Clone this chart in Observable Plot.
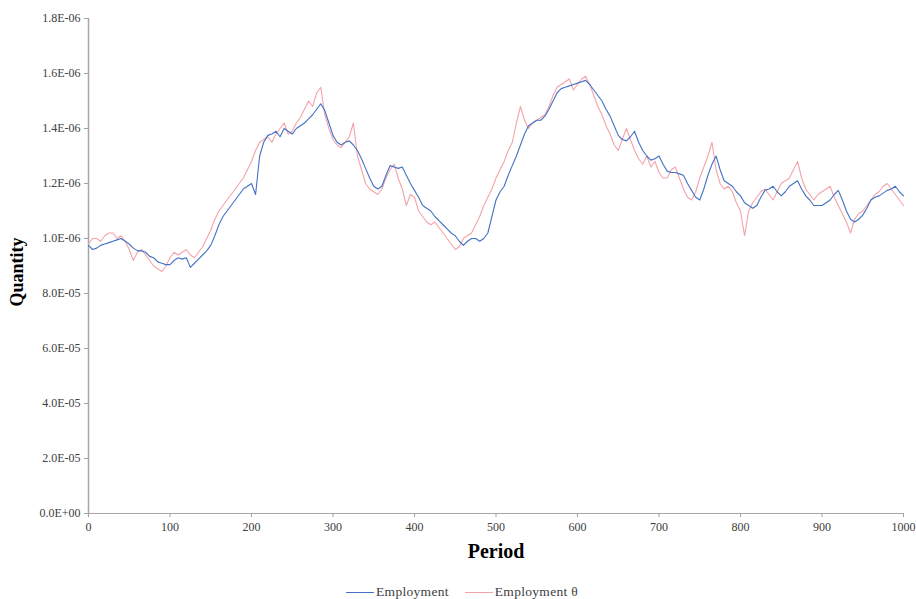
<!DOCTYPE html>
<html>
<head>
<meta charset="utf-8">
<script src="https://cdn.jsdelivr.net/npm/d3@7"></script>
<script src="https://cdn.jsdelivr.net/npm/@observablehq/plot@0.6"></script>
<style>
  html, body { margin: 0; padding: 0; background: #fff; }
  #chart { width: 916px; }
  .legend { display: flex; justify-content: center; align-items: center; height: 16px; padding-top: 6px;
    font-family: "Liberation Serif", "DejaVu Serif", serif; font-size: 13.5px; color: #404040; padding-left: 8px; letter-spacing: 0.3px; }
  .legend .item { display: flex; align-items: center; margin: 0 8px; }
  .legend .sw { width: 28px; height: 0; border-top: 1.2px solid; margin-right: 2px; }
</style>
</head>
<body>
<div id="chart"></div>
<script>
// Period step of 5 (0..1000)
const periodStep = 5;
// Employment (values in millions)
const employment = [
0.975,0.96,0.965,0.975,0.98,0.985,0.99,0.995,1.0,0.99,
0.98,0.965,0.956,0.955,0.95,0.935,0.93,0.915,0.91,0.905,
0.905,0.92,0.93,0.925,0.93,0.895,0.91,0.925,0.94,0.955,
0.975,1.01,1.05,1.08,1.10,1.12,1.14,1.16,1.18,1.19,
1.20,1.16,1.30,1.35,1.375,1.38,1.39,1.37,1.40,1.39,
1.38,1.40,1.41,1.42,1.435,1.45,1.47,1.49,1.465,1.42,
1.375,1.35,1.34,1.35,1.355,1.34,1.32,1.29,1.255,1.22,
1.19,1.18,1.19,1.23,1.265,1.26,1.255,1.26,1.23,1.20,
1.175,1.15,1.12,1.11,1.10,1.08,1.065,1.05,1.035,1.02,
1.01,0.99,0.975,0.99,1.0,1.0,0.99,1.0,1.02,1.08,
1.14,1.17,1.19,1.23,1.265,1.30,1.34,1.38,1.41,1.42,
1.43,1.43,1.445,1.47,1.50,1.53,1.545,1.55,1.555,1.56,
1.565,1.57,1.575,1.56,1.54,1.52,1.50,1.47,1.445,1.41,
1.375,1.36,1.355,1.37,1.39,1.35,1.32,1.30,1.285,1.29,
1.30,1.27,1.245,1.24,1.24,1.235,1.23,1.20,1.175,1.15,
1.14,1.18,1.23,1.27,1.30,1.25,1.21,1.20,1.19,1.17,
1.155,1.13,1.12,1.11,1.12,1.15,1.175,1.18,1.19,1.17,
1.155,1.17,1.19,1.20,1.21,1.18,1.155,1.14,1.12,1.12,
1.12,1.13,1.14,1.16,1.175,1.14,1.10,1.07,1.06,1.07,
1.085,1.11,1.14,1.15,1.155,1.165,1.175,1.18,1.19,1.17,
1.155
];
// Employment θ (values in millions)
const employmentTheta = [
0.98,1.0,1.0,0.99,1.01,1.02,1.02,1.0,1.01,0.99,
0.96,0.92,0.95,0.96,0.94,0.92,0.90,0.89,0.88,0.90,
0.93,0.95,0.94,0.95,0.96,0.94,0.93,0.95,0.97,1.0,
1.03,1.07,1.10,1.12,1.14,1.16,1.18,1.20,1.22,1.25,
1.28,1.32,1.35,1.36,1.37,1.35,1.38,1.40,1.42,1.38,
1.39,1.42,1.44,1.47,1.50,1.48,1.53,1.55,1.45,1.40,
1.36,1.34,1.33,1.35,1.37,1.42,1.30,1.25,1.20,1.18,
1.17,1.16,1.18,1.22,1.25,1.27,1.22,1.18,1.12,1.16,
1.15,1.10,1.08,1.06,1.05,1.06,1.04,1.02,1.0,0.98,
0.96,0.97,1.0,1.01,1.02,1.05,1.08,1.12,1.15,1.18,
1.22,1.25,1.28,1.32,1.35,1.42,1.48,1.43,1.40,1.42,
1.43,1.44,1.45,1.48,1.52,1.55,1.56,1.57,1.58,1.54,
1.56,1.58,1.59,1.56,1.52,1.48,1.45,1.41,1.38,1.34,
1.32,1.36,1.40,1.36,1.32,1.29,1.27,1.30,1.26,1.28,
1.24,1.22,1.22,1.25,1.26,1.22,1.18,1.15,1.14,1.17,
1.22,1.26,1.30,1.35,1.25,1.20,1.18,1.19,1.17,1.13,
1.10,1.01,1.10,1.13,1.15,1.17,1.18,1.16,1.14,1.17,
1.20,1.21,1.22,1.25,1.28,1.22,1.18,1.16,1.14,1.16,
1.17,1.18,1.19,1.15,1.12,1.09,1.06,1.02,1.07,1.09,
1.10,1.12,1.14,1.16,1.17,1.19,1.20,1.18,1.16,1.14,
1.12
];
const seriesNames = ["Employment", "Employment θ"];
const seriesColors = ["#4472c4", "#f4a3aa"];
const yTickValues = [0, 0.2, 0.4, 0.6, 0.8, 1.0, 1.2, 1.4, 1.6, 1.8];
const yTickLabels = ["0.0E+00","2.0E-05","4.0E-05","6.0E-05","8.0E-05","1.0E-06","1.2E-06","1.4E-06","1.6E-06","1.8E-06"];
const xTickValues = [0,100,200,300,400,500,600,700,800,900,1000];

const rows = [];
employmentTheta.forEach((v, i) => rows.push({period: i * periodStep, value: v * 1e6, series: seriesNames[1]}));
employment.forEach((v, i) => rows.push({period: i * periodStep, value: v * 1e6, series: seriesNames[0]}));

const serif = '"Liberation Serif", "DejaVu Serif", serif';
const plot = Plot.plot({
  width: 916,
  height: 578,
  marginTop: 18,
  marginBottom: 65,
  marginLeft: 88,
  marginRight: 13,
  style: {fontFamily: serif, fontSize: "12px", color: "#404040", background: "#fff", overflow: "visible"},
  x: {domain: [0, 1000]},
  y: {domain: [0, 1.8e6]},
  color: {domain: seriesNames, range: seriesColors},
  marks: [
    Plot.axisY({ticks: yTickValues.map(v => v * 1e6), tickFormat: (d) => yTickLabels[yTickValues.indexOf(Math.round(d / 1e5) / 10)], tickSize: 4, tickPadding: 4, stroke: "#a0a0a0", label: null}),
    Plot.axisX({ticks: xTickValues, tickFormat: d => String(d), tickSize: 4, tickPadding: 5, stroke: "#a0a0a0", label: null}),
    Plot.ruleX([0], {stroke: "#a6a6a6", strokeWidth: 1.5}),
    Plot.ruleY([0], {stroke: "#a6a6a6", strokeWidth: 1.2}),
    Plot.line(rows, {x: "period", y: "value", z: "series", stroke: "series", strokeWidth: 1.1}),
    Plot.text(["Quantity"], {frameAnchor: "left", dx: -71, dy: 6, rotate: -90, fontSize: 18, fontWeight: "bold", fill: "#000", textAnchor: "middle", lineAnchor: "middle"}),
    Plot.text(["Period"], {frameAnchor: "bottom", dy: 38, fontSize: 20, fontWeight: "bold", fill: "#000", lineAnchor: "middle"})
  ]
});
document.getElementById("chart").appendChild(plot);

const legend = document.createElement("div");
legend.className = "legend";
seriesNames.forEach((name, i) => {
  const item = document.createElement("div");
  item.className = "item";
  const sw = document.createElement("span");
  sw.className = "sw";
  sw.style.borderTopColor = seriesColors[i];
  const label = document.createElement("span");
  label.textContent = name;
  item.appendChild(sw);
  item.appendChild(label);
  legend.appendChild(item);
});
document.getElementById("chart").appendChild(legend);
</script>
</body>
</html>
